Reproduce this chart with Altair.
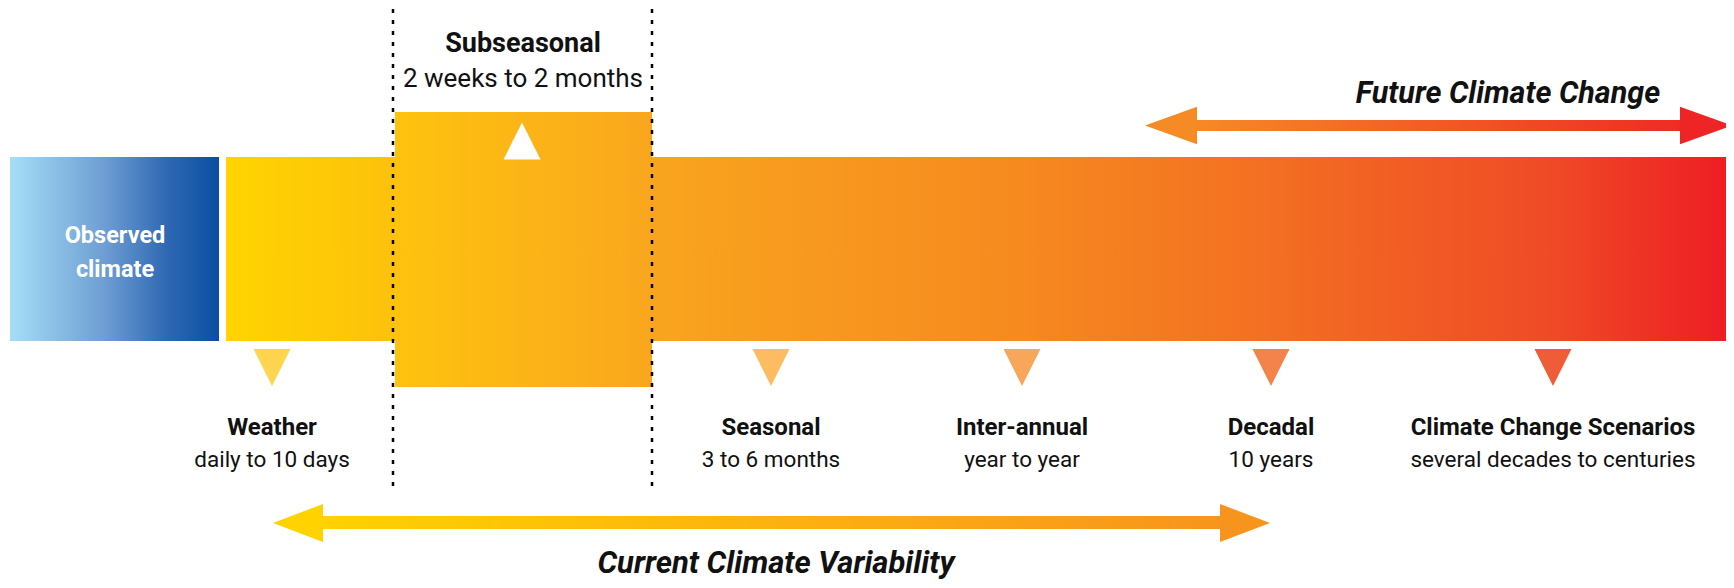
import altair as alt
import pandas as pd

FONT = "Roboto"

# ---- content ----
scale_names = ["Weather", "Seasonal", "Inter-annual", "Decadal", "Climate Change Scenarios"]
scale_ranges = ["daily to 10 days", "3 to 6 months", "year to year", "10 years", "several decades to centuries"]
scale_pos = [272, 771, 1022, 1271, 1553]
marker_colors = ["#FFD54F", "#FDBB62", "#F8A65A", "#F3834A", "#F05B38"]

sub_title = "Subseasonal"
sub_range = "2 weeks to 2 months"
obs_lines = ["Observed", "climate"]
future_title = "Future Climate Change"
current_title = "Current Climate Variability"

X = alt.Scale(domain=[8, 1726])
Y = alt.Scale(domain=[8, 580], reverse=True)


def grad(colors, offsets):
    return alt.LinearGradient(
        gradient="linear",
        stops=[alt.GradientStop(color=c, offset=o) for c, o in zip(colors, offsets)],
        x1=0, x2=1, y1=0, y2=0,
    )


def box(x, x2, y, y2, color):
    df = pd.DataFrame({"x": [x], "x2": [x2], "y": [y], "y2": [y2]})
    return alt.Chart(df).mark_rect(color=color).encode(
        x=alt.X("x:Q", scale=X, axis=None),
        x2="x2:Q",
        y=alt.Y("y:Q", scale=Y, axis=None),
        y2="y2:Q",
    )


def sym(xs, ys, shape, size, colors):
    df = pd.DataFrame({"x": xs, "y": ys, "c": colors})
    return alt.Chart(df).mark_point(shape=shape, size=size, filled=True, opacity=1, strokeWidth=0).encode(
        x=alt.X("x:Q", scale=X, axis=None),
        y=alt.Y("y:Q", scale=Y, axis=None),
        color=alt.Color("c:N", scale=None),
    )


def txt(xs, ys, texts, size, weight="normal", style="normal", color="#111111"):
    df = pd.DataFrame({"x": xs, "y": ys, "t": texts})
    return alt.Chart(df).mark_text(
        font=FONT, fontSize=size, fontWeight=weight, fontStyle=style,
        align="center", baseline="alphabetic", color=color,
    ).encode(
        x=alt.X("x:Q", scale=X, axis=None),
        y=alt.Y("y:Q", scale=Y, axis=None),
        text="t:N",
    )


obs = box(10, 219, 157, 341, grad(["#A6DEF7", "#6E9ED3", "#2F68B3", "#0A4EA2"], [0, 0.45, 0.75, 1]))
main = box(226, 1734, 157, 341, grad(
    ["#FFD400", "#F9A51E", "#F6891F", "#F36F22", "#EF4A26", "#ED1C24"],
    [0, 0.28, 0.53, 0.69, 0.88, 1]))
sub = box(395, 652, 112, 387, grad(["#FEC30E", "#F9A61E"], [0, 1]))

dash_df = pd.DataFrame({"x": [393, 652], "y": [9, 9], "y2": [488, 488]})
dashes = alt.Chart(dash_df).mark_rule(color="#000000", strokeWidth=2.5, strokeDash=[4, 7]).encode(
    x=alt.X("x:Q", scale=X, axis=None),
    y=alt.Y("y:Q", scale=Y, axis=None),
    y2="y2:Q",
)

up_tri = sym([522], [141], "M0,-1L1,1L-1,1Z", 37 * 37, ["#FFFFFF"])
down_tri = sym(scale_pos, [367.5] * 5, "M-1,-1L1,-1L0,1Z", 37 * 37, marker_colors)

# arrows
fut_shaft = box(1190, 1688, 120, 131, grad(["#F68B26", "#EE2A24"], [0, 1]))
fut_head_l = sym([1171], [125.5], "M-1,0L1,-0.72L1,0.72Z", 52 * 52, ["#F68B26"])
fut_head_r = sym([1706], [125.5], "M1,0L-1,-0.72L-1,0.72Z", 52 * 52, ["#EE2524"])

cur_shaft = box(318, 1224, 516, 529, grad(["#FFD200", "#F7941D"], [0, 1]))
cur_head_l = sym([298], [523], "M-1,0L1,-0.76L1,0.76Z", 50 * 50, ["#FFD200"])
cur_head_r = sym([1245], [523], "M1,0L-1,-0.76L-1,0.76Z", 50 * 50, ["#F7941D"])

# text
t_names = txt(scale_pos, [435] * 5, scale_names, 24, weight="bold")
t_ranges = txt(scale_pos, [467] * 5, scale_ranges, 22.5)
t_sub = txt([523], [52], [sub_title], 27, weight="bold")
t_subr = txt([523], [87], [sub_range], 26)
t_obs = txt([115, 115], [243, 277], obs_lines, 23.5, weight="bold", color="#FFFFFF")
t_fut = txt([1508], [103], [future_title], 30.5, weight="bold", style="italic")
t_cur = txt([776], [573], [current_title], 31, weight="bold", style="italic")

chart = alt.layer(
    obs, main, sub, dashes, up_tri, down_tri,
    fut_shaft, fut_head_l, fut_head_r, cur_shaft, cur_head_l, cur_head_r,
    t_names, t_ranges, t_sub, t_subr, t_obs, t_fut, t_cur,
).properties(
    width=1718, height=572, padding=0, autosize=alt.AutoSizeParams(type="none"),
    background="#FFFFFF",
).configure_view(stroke=None)

chart.save("out.html", embed_options={"renderer": "svg", "actions": False})
